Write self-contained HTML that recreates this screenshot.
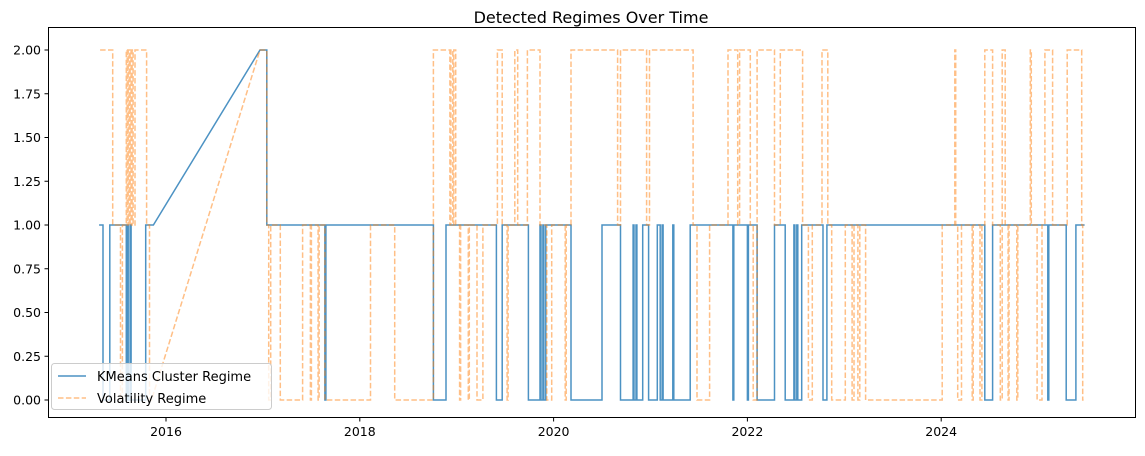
<!DOCTYPE html>
<html><head><meta charset="utf-8"><style>
body{margin:0;background:#fff;font-family:"Liberation Sans","DejaVu Sans",sans-serif;}
svg text{font-family:"DejaVu Sans","Liberation Sans",sans-serif;}
</style></head><body>
<svg id="chart" width="1145" height="451" xmlns="http://www.w3.org/2000/svg">
<text x="591" y="23" font-size="16" text-anchor="middle" fill="#000">Detected Regimes Over Time</text>
<g id="marks"></g>
<rect x="48.5" y="27.5" width="1087" height="390" fill="none" stroke="#000" stroke-width="1"/>
<g id="axes"></g>
<g>
<rect x="51.5" y="363.5" width="220" height="46" rx="3" fill="#fff" fill-opacity="0.8" stroke="#ccc"/>
<line x1="58" y1="376" x2="86" y2="376" stroke="#1f77b4" stroke-opacity="0.8" stroke-width="1.5"/>
<text x="97" y="381" font-size="13">KMeans Cluster Regime</text>
<line x1="58" y1="398" x2="86" y2="398" stroke="#ff7f0e" stroke-opacity="0.5" stroke-width="1.5" stroke-dasharray="5.5,2.4"/>
<text x="97" y="403" font-size="13">Volatility Regime</text>
</g>
</svg>
<script>
const kmTimes=[2015.31,2015.35,2015.42,2015.44,2015.59,2015.60,2015.61,2015.63,2015.64,2015.66,2015.79,2015.87,2016.97,2017.04,2017.64,2017.65,2018.76,2018.89,2019.41,2019.47,2019.74,2019.86,2019.87,2019.89,2019.90,2019.92,2019.93,2020.18,2020.50,2020.69,2020.82,2020.83,2020.85,2020.86,2020.92,2020.98,2021.07,2021.10,2021.12,2021.13,2021.23,2021.24,2021.41,2021.85,2021.86,2022.00,2022.01,2022.10,2022.28,2022.39,2022.48,2022.49,2022.51,2022.52,2022.56,2022.78,2022.82,2024.45,2024.53,2025.10,2025.11,2025.29,2025.39,2025.48];
const kmValues=[1,0,1,1,0,1,0,1,0,0,1,1,2,1,0,1,0,1,0,1,0,1,0,1,0,1,1,0,1,0,1,0,1,0,1,0,1,0,1,0,1,0,1,0,1,0,1,0,1,0,1,0,1,0,1,0,1,0,1,0,1,0,1,1];
const volTimes=[2015.32,2015.45,2015.53,2015.55,2015.59,2015.60,2015.61,2015.62,2015.63,2015.64,2015.65,2015.66,2015.68,2015.80,2015.83,2015.85,2016.97,2017.04,2017.06,2017.08,2017.18,2017.41,2017.49,2017.50,2017.57,2017.58,2017.64,2018.11,2018.36,2018.76,2018.93,2018.94,2018.96,2018.97,2018.99,2019.03,2019.04,2019.12,2019.13,2019.21,2019.27,2019.42,2019.47,2019.52,2019.53,2019.60,2019.63,2019.73,2019.86,2019.93,2019.98,2020.12,2020.13,2020.18,2020.66,2020.69,2020.96,2020.99,2021.44,2021.48,2021.61,2021.80,2021.90,2021.92,2022.03,2022.06,2022.10,2022.28,2022.34,2022.57,2022.63,2022.67,2022.77,2022.83,2022.87,2023.01,2023.08,2023.10,2023.14,2023.16,2023.22,2024.01,2024.14,2024.15,2024.17,2024.21,2024.32,2024.33,2024.40,2024.42,2024.45,2024.53,2024.61,2024.63,2024.66,2024.69,2024.70,2024.78,2024.79,2024.92,2024.93,2024.99,2025.04,2025.07,2025.15,2025.30,2025.45,2025.46,2025.47];
const volValues=[2,1,0,1,2,1,2,1,2,1,2,1,2,1,0,0,2,1,0,1,0,1,0,1,0,1,0,1,0,2,1,2,1,2,1,0,1,0,1,0,1,2,1,0,1,2,1,2,1,0,1,0,1,2,1,2,1,2,1,0,1,2,1,2,1,0,2,1,2,1,0,1,2,1,0,1,0,1,0,1,0,1,2,1,0,1,0,1,0,1,2,1,0,2,1,0,1,0,1,2,1,0,1,2,1,2,1,0,0];
const missingFrom=2015.9, missingTo=2016.9;
const xTicks=[2016,2018,2020,2022,2024];
const yTicks=[0,0.25,0.5,0.75,1,1.25,1.5,1.75,2];
const NS="http://www.w3.org/2000/svg";
function xs(t){return 166+(t-2016)*96.9;}
function ys(v){return 400-v*175;}
function path(times,vals){
  let d="M"+xs(times[0]).toFixed(1)+","+ys(vals[0]).toFixed(1);
  for(let i=1;i<times.length;i++){
    const x=xs(times[i]).toFixed(1);
    if(times[i-1]<missingFrom && times[i]>missingTo){d+=" L"+x+","+ys(vals[i]).toFixed(1);}
    else{d+=" L"+x+","+ys(vals[i-1]).toFixed(1)+" L"+x+","+ys(vals[i]).toFixed(1);}
  }
  return d;
}
const marks=document.getElementById('marks');
const p1=document.createElementNS(NS,'path');


p1.setAttribute('d',path(kmTimes,kmValues));
p1.setAttribute('fill','none');p1.setAttribute('stroke','#1f77b4');p1.setAttribute('stroke-opacity','0.8');p1.setAttribute('stroke-width','1.5');
marks.appendChild(p1);
const p2=document.createElementNS(NS,'path');


p2.setAttribute('d',path(volTimes,volValues));
p2.setAttribute('fill','none');p2.setAttribute('stroke','#ff7f0e');p2.setAttribute('stroke-opacity','0.5');p2.setAttribute('stroke-width','1.5');p2.setAttribute('stroke-dasharray','5.5,2.4');
marks.appendChild(p2);
const axes=document.getElementById('axes');
xTicks.forEach(t=>{
  const x=xs(t);
  const l=document.createElementNS(NS,'line');
  
  
  l.setAttribute('x1',x);l.setAttribute('x2',x);l.setAttribute('y1',418);l.setAttribute('y2',421.5);l.setAttribute('stroke','#000');
  axes.appendChild(l);
  const tx=document.createElementNS(NS,'text');
  
  
  tx.setAttribute('x',x);tx.setAttribute('y',436);tx.setAttribute('font-size','12.5');tx.setAttribute('text-anchor','middle');
  tx.textContent=t;axes.appendChild(tx);
});
yTicks.forEach(v=>{
  const y=ys(v);
  const l=document.createElementNS(NS,'line');
  
  
  l.setAttribute('x1',44.5);l.setAttribute('x2',48);l.setAttribute('y1',y);l.setAttribute('y2',y);l.setAttribute('stroke','#000');
  axes.appendChild(l);
  const tx=document.createElementNS(NS,'text');
  
  
  tx.setAttribute('x',41);tx.setAttribute('y',y+4.5);tx.setAttribute('font-size','12.5');tx.setAttribute('text-anchor','end');
  tx.textContent=v.toFixed(2);axes.appendChild(tx);
});
</script>
</body></html>
